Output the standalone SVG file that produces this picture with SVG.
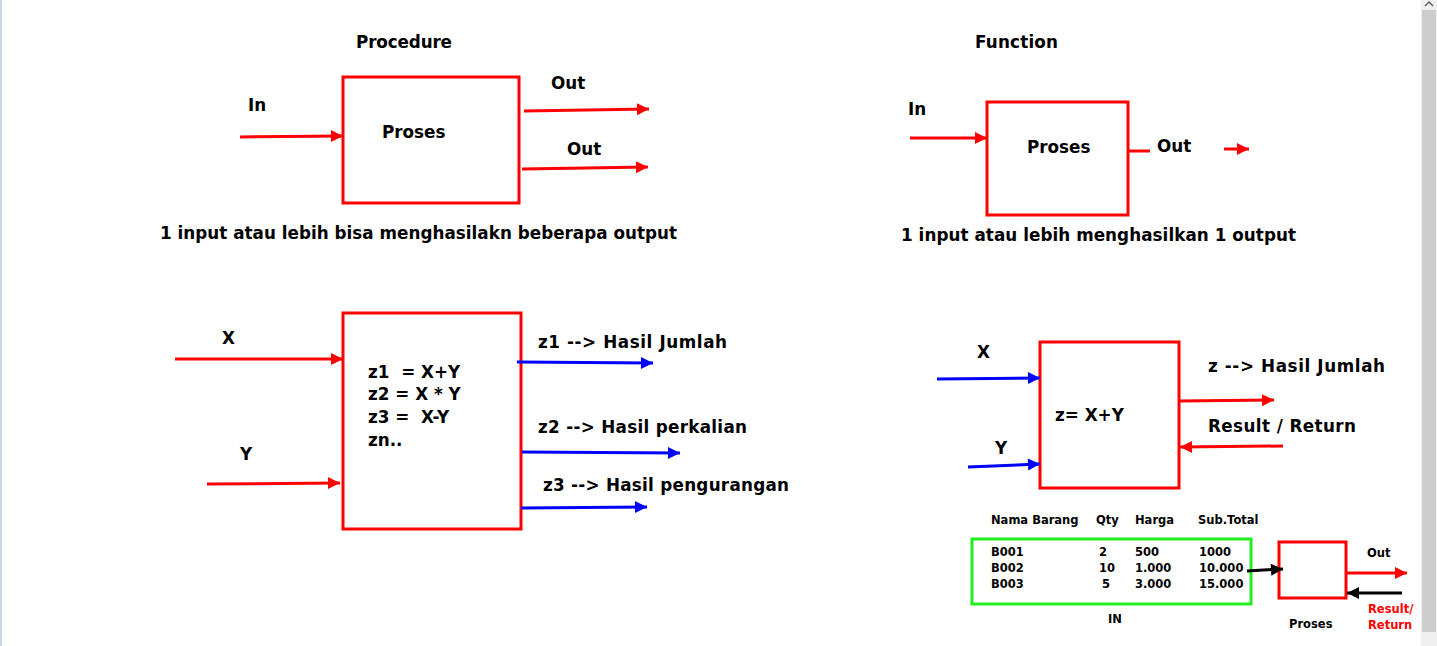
<svg xmlns="http://www.w3.org/2000/svg" width="1437" height="646" viewBox="0 0 1437 646">
<style>
text{font-family:"DejaVu Sans","Verdana",sans-serif;font-weight:bold;fill:#000}
.t{font-size:16.8px}
.s{font-size:11.5px}
.r{fill:#ff0000}
.box{fill:#fff;stroke:#ff0000;stroke-width:3}
.red{stroke:#ff0000;stroke-width:3;fill:none}
.blue{stroke:#0000ff;stroke-width:3;fill:none}
.blk{stroke:#000;stroke-width:3;fill:none}
</style>
<defs>
<marker id="ar" markerUnits="userSpaceOnUse" markerWidth="14" markerHeight="14" refX="13" refY="7" orient="auto"><path d="M1,1 L13,7 L1,13 Z" fill="#ff0000"/></marker>
<marker id="ab" markerUnits="userSpaceOnUse" markerWidth="14" markerHeight="14" refX="13" refY="7" orient="auto"><path d="M1,1 L13,7 L1,13 Z" fill="#0000ff"/></marker>
<marker id="ak" markerUnits="userSpaceOnUse" markerWidth="14" markerHeight="14" refX="13" refY="7" orient="auto"><path d="M1,1 L13,7 L1,13 Z" fill="#000"/></marker>
</defs>
<rect width="1437" height="646" fill="#fff"/>
<rect x="0" y="0" width="2" height="646" fill="#cad5e8"/>
<g id="scrollbar">
<rect x="1421" y="0" width="16" height="646" fill="#f0f0f0"/>
<rect x="1422" y="10" width="14" height="622" fill="#cdcdcd"/>
<path d="M1425,6 L1429,2 L1433,6" stroke="#606060" stroke-width="1.5" fill="none"/>
</g>
<g id="titles">
<text class="t" x="356" y="48" textLength="96">Procedure</text>
<text class="t" x="975" y="48" textLength="83">Function</text>
</g>
<g id="proc-box"><rect class="box" x="343" y="77" width="176" height="126"/><text class="t" x="382" y="138">Proses</text></g>
<g id="proc-labels">
<text class="t" x="248" y="111">In</text>
<text class="t" x="551" y="89">Out</text>
<text class="t" x="567" y="155">Out</text>
<text class="t" x="160" y="239" textLength="517">1 input atau lebih bisa menghasilakn beberapa output</text>
</g>
<g id="func-box"><rect class="box" x="987" y="102" width="141" height="113"/><text class="t" x="1027" y="153">Proses</text></g>
<g id="func-labels">
<text class="t" x="908" y="115">In</text>
<text class="t" x="1157" y="152">Out</text>
<text class="t" x="901" y="241" textLength="395">1 input atau lebih menghasilkan 1 output</text>
</g>
<g id="proc2-box"><rect class="box" x="343" y="313" width="178" height="216"/>
<text class="t" x="368" y="378" xml:space="preserve">z1  = X+Y</text>
<text class="t" x="368" y="400">z2 = X * Y</text>
<text class="t" x="368" y="423" xml:space="preserve">z3 =  X-Y</text>
<text class="t" x="368" y="446">zn..</text>
</g>
<g id="proc2-labels">
<text class="t" x="222" y="344">X</text>
<text class="t" x="240" y="460">Y</text>
<text class="t" x="538" y="348" textLength="189">z1 --&gt; Hasil Jumlah</text>
<text class="t" x="538" y="433" textLength="209">z2 --&gt; Hasil perkalian</text>
<text class="t" x="543" y="491" textLength="246">z3 --&gt; Hasil pengurangan</text>
</g>
<g id="func2-box"><rect class="box" x="1040" y="342" width="139" height="146"/><text class="t" x="1055" y="421">z= X+Y</text></g>
<g id="func2-labels">
<text class="t" x="977" y="358">X</text>
<text class="t" x="995" y="454">Y</text>
<text class="t" x="1208" y="372" textLength="177">z --&gt; Hasil Jumlah</text>
<text class="t" x="1208" y="432" textLength="148">Result / Return</text>
</g>
<g id="table">
<text class="s" x="991" y="524">Nama Barang</text>
<text class="s" x="1096" y="524">Qty</text>
<text class="s" x="1135" y="524">Harga</text>
<text class="s" x="1198" y="524">Sub.Total</text>
<rect x="972" y="539" width="279" height="65" fill="none" stroke="#22ee22" stroke-width="3"/>
<text class="s" x="991" y="556">B001</text>
<text class="s" x="991" y="572">B002</text>
<text class="s" x="991" y="588">B003</text>
<text class="s" x="1099" y="556">2</text>
<text class="s" x="1099" y="572">10</text>
<text class="s" x="1102" y="588">5</text>
<text class="s" x="1135" y="556">500</text>
<text class="s" x="1135" y="572">1.000</text>
<text class="s" x="1135" y="588">3.000</text>
<text class="s" x="1199" y="556">1000</text>
<text class="s" x="1199" y="572">10.000</text>
<text class="s" x="1199" y="588">15.000</text>
<text class="s" x="1108" y="623">IN</text>
</g>
<g id="small-box"><rect class="box" x="1279" y="542" width="67" height="56"/></g>
<g id="small-labels">
<text class="s" x="1367" y="557">Out</text>
<text class="s r" x="1368" y="613">Result/</text>
<text class="s r" x="1368" y="629">Return</text>
<text class="s" x="1289" y="628">Proses</text>
</g>
<g id="connectors">
<line class="red" x1="240" y1="137" x2="343" y2="136" marker-end="url(#ar)"/>
<line class="red" x1="524" y1="111" x2="649" y2="109" marker-end="url(#ar)"/>
<line class="red" x1="522" y1="169" x2="648" y2="167" marker-end="url(#ar)"/>
<line class="red" x1="910" y1="138" x2="987" y2="138" marker-end="url(#ar)"/>
<line class="red" x1="1128" y1="151" x2="1150" y2="151"/>
<line class="red" x1="1224" y1="149" x2="1249" y2="149" marker-end="url(#ar)"/>
<line class="red" x1="175" y1="359" x2="343" y2="359" marker-end="url(#ar)"/>
<line class="red" x1="207" y1="484" x2="340" y2="483" marker-end="url(#ar)"/>
<line class="blue" x1="517" y1="362" x2="653" y2="363" marker-end="url(#ab)"/>
<line class="blue" x1="522" y1="452" x2="680" y2="453" marker-end="url(#ab)"/>
<line class="blue" x1="521" y1="508" x2="647" y2="507" marker-end="url(#ab)"/>
<line class="blue" x1="937" y1="379" x2="1040" y2="378" marker-end="url(#ab)"/>
<line class="blue" x1="968" y1="467" x2="1040" y2="464" marker-end="url(#ab)"/>
<line class="red" x1="1179" y1="401" x2="1274" y2="400" marker-end="url(#ar)"/>
<line class="red" x1="1283" y1="446" x2="1180" y2="447" marker-end="url(#ar)"/>
<line class="blk" x1="1247" y1="571" x2="1283" y2="569" marker-end="url(#ak)"/>
<line class="red" x1="1346" y1="573" x2="1407" y2="573" marker-end="url(#ar)"/>
<line class="blk" x1="1402" y1="593" x2="1347" y2="593" marker-end="url(#ak)"/>
</g>
</svg>
